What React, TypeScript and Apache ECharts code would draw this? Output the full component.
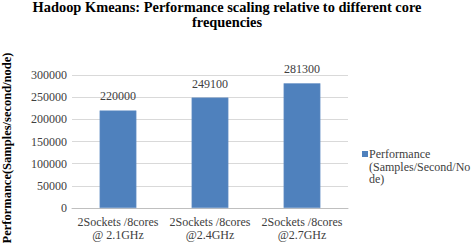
import React, { useEffect, useRef } from "react";
import * as echarts from "echarts";

const categories = ["2Sockets /8cores\n@ 2.1GHz", "2Sockets /8cores\n@2.4GHz", "2Sockets /8cores\n@2.7GHz"];
const values = [220000, 249100, 281300];
const seriesName = "Performance\n(Samples/Second/No\nde)";
const titleText = "Hadoop Kmeans: Performance scaling relative to different core\nfrequencies";
const yName = "Performance(Samples/second/node)";

export default function App() {
  const ref = useRef<HTMLDivElement>(null);
  useEffect(() => {
    if (!ref.current) return;
    document.body.style.margin = "0";
    const chart = echarts.init(ref.current, null, { renderer: "svg" });
    const font = "Liberation Serif";
    chart.setOption({
      animation: false,
      backgroundColor: "#ffffff",
      textStyle: { fontFamily: font },
      title: {
        text: titleText,
        left: 222,
        textAlign: "center",
        top: -6,
        textStyle: { fontFamily: font, fontWeight: "bold", fontSize: 14.4, lineHeight: 15, color: "#000" },
      },
      grid: { left: 72, right: 124, top: 75, bottom: 35 },
      legend: {
        left: 362,
        top: 148,
        padding: 0,
        orient: "vertical",
        icon: "path://M0,3h6v6h-6z M0,0h0.001 M0,37.5h0.001",
        itemWidth: 6,
        itemHeight: 37.5,
        itemGap: 4,
        itemStyle: { borderWidth: 0 },
        textStyle: { fontFamily: font, fontSize: 12, lineHeight: 12.5, color: "#404040", padding: [0, 0, 0, -4] },
        data: [seriesName],
      },
      graphic: [
        {
          type: "text",
          x: 7,
          y: 148,
          rotation: Math.PI / 2,
          style: {
            text: yName,
            fontFamily: font,
            fontWeight: "bold",
            fontSize: 12.5,
            fill: "#000",
            align: "center",
            verticalAlign: "middle",
          },
        },
      ],
      xAxis: {
        type: "category",
        data: categories,
        axisTick: { show: false },
        axisLine: { lineStyle: { color: "#bfbfbf" } },
        axisLabel: { interval: 0, fontFamily: font, fontSize: 12, lineHeight: 13, color: "#404040", margin: 7 },
      },
      yAxis: {
        type: "value",
        min: 0,
        max: 300000,
        interval: 50000,
        axisLine: { show: false },
        axisTick: { show: false },
        splitLine: { lineStyle: { color: "#d9d9d9" } },
        axisLabel: { fontFamily: font, fontSize: 12, color: "#404040", margin: 5, formatter: (v: number) => String(v) },
      },
      series: [
        {
          name: seriesName,
          type: "bar",
          data: values,
          barWidth: "40%",
          itemStyle: { color: "#4f81bd", borderColor: "#6a95c9", borderWidth: 0.5 },
          label: {
            show: true,
            position: "top",
            distance: 8,
            fontFamily: font,
            fontSize: 12,
            color: "#404040",
          },
        },
      ],
    });
    return () => chart.dispose();
  }, []);
  return <div ref={ref} style={{ width: 472, height: 243 }} />;
}
